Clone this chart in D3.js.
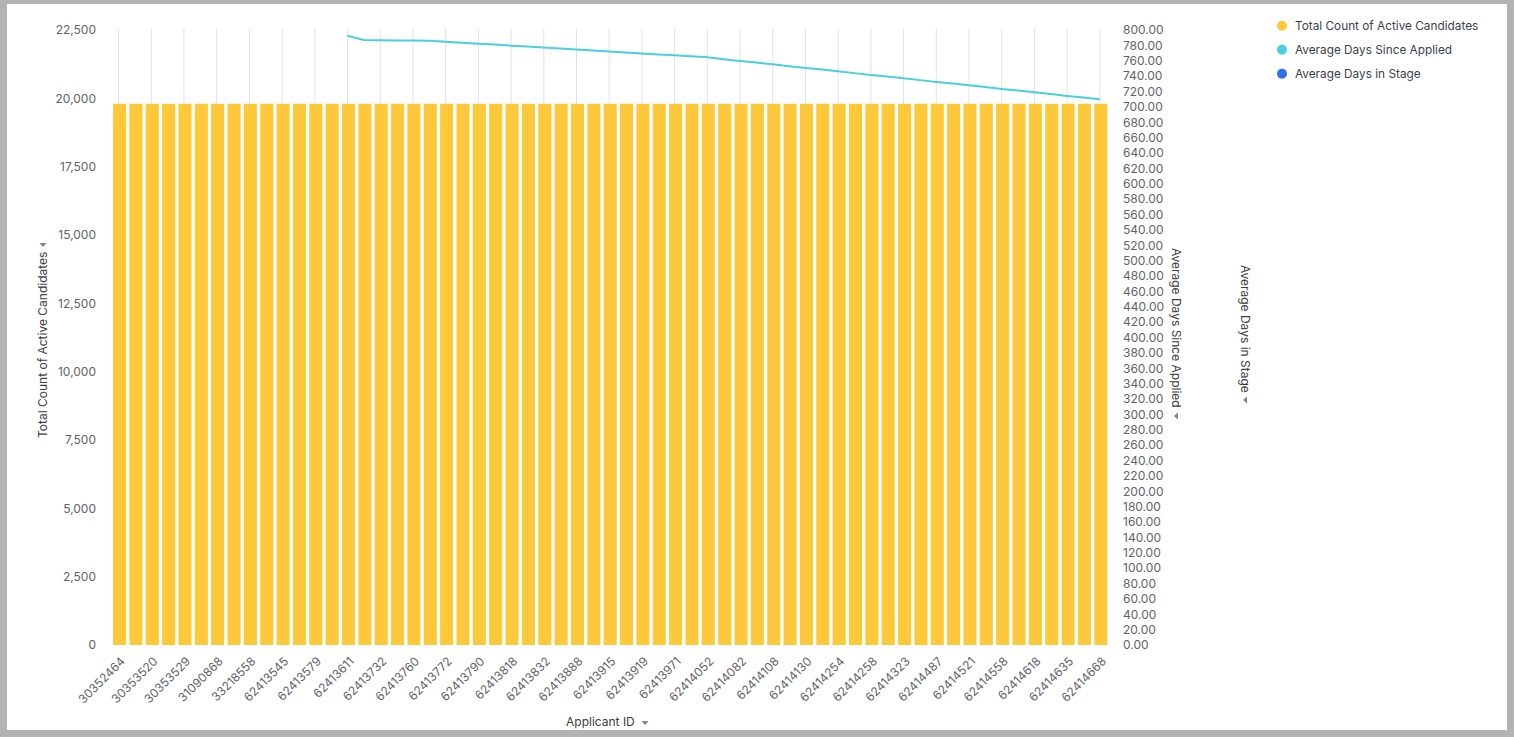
<!DOCTYPE html>
<html>
<head>
<meta charset="utf-8">
<script src="https://cdn.jsdelivr.net/npm/d3@7"></script>
<style>
  html, body { margin: 0; padding: 0; background: #b3b3b3; }
  svg { display: block; font-family: Inter, "Noto Sans", sans-serif; }
</style>
</head>
<body>
<div id="chart"></div>
<script>
var width = 1514;
var height = 737;

// applicant ids (x categories)
var applicantIds = [
  "30352464", "30353117", "30353520", "30353527", "30353529", "30355812",
  "31090868", "32140573", "33218558", "62413512", "62413545", "62413566",
  "62413579", "62413598", "62413611", "62413689", "62413732", "62413748",
  "62413760", "62413765", "62413772", "62413781", "62413790", "62413806",
  "62413818", "62413824", "62413832", "62413851", "62413888", "62413902",
  "62413915", "62413917", "62413919", "62413946", "62413971", "62414017",
  "62414052", "62414068", "62414082", "62414095", "62414108", "62414119",
  "62414130", "62414187", "62414254", "62414256", "62414258", "62414291",
  "62414323", "62414402", "62414487", "62414503", "62414521", "62414540",
  "62414558", "62414587", "62414618", "62414627", "62414635", "62414650",
  "62414668"
];

// total count of active candidates per applicant
var activeCounts = [
  19800, 19800, 19800, 19800, 19800, 19800, 19800, 19800, 19800, 19800,
  19800, 19800, 19800, 19800, 19800, 19800, 19800, 19800, 19800, 19800,
  19800, 19800, 19800, 19800, 19800, 19800, 19800, 19800, 19800, 19800,
  19800, 19800, 19800, 19800, 19800, 19800, 19800, 19800, 19800, 19800,
  19800, 19800, 19800, 19800, 19800, 19800, 19800, 19800, 19800, 19800,
  19800, 19800, 19800, 19800, 19800, 19800, 19800, 19800, 19800, 19800,
  19800
];

// average days since applied (null = no value)
var daysSinceApplied = [
  null, null, null, null, null, null, null, null, null, null,
  null, null, null, null, 792.6, 787.0, 786.6, 786.5, 786.3, 786.0,
  784.7, 783.5, 782.2, 781.0, 779.6, 778.4, 777.1, 775.9, 774.6, 773.3,
  772.0, 770.8, 769.5, 768.2, 767.0, 765.7, 764.4, 762.1, 759.8, 757.6,
  755.3, 753.0, 750.7, 748.5, 746.2, 743.9, 741.6, 739.4, 737.1, 734.8,
  732.5, 730.3, 728.0, 725.7, 723.4, 721.2, 718.9, 716.6, 714.3, 712.1,
  709.8
];

var leftTicks = [0, 2500, 5000, 7500, 10000, 12500, 15000, 17500, 20000, 22500];
var rightTicks = d3.range(0, 801, 20);

var seriesNames = ["Total Count of Active Candidates", "Average Days Since Applied", "Average Days in Stage"];
var seriesColors = ["#fdc93b", "#48cfe0", "#2f6fed"];

var plotTop = 30;
var plotBottom = 645;

var svg = d3.select("#chart")
            .append("svg")
            .attr("width", width)
            .attr("height", height);

// white panel
svg.append("rect")
    .attr("x", 7)
    .attr("y", 4)
    .attr("width", 1500)
    .attr("height", 726)
    .attr("fill", "white");

var x = d3.scaleBand()
          .domain(applicantIds)
          .range([111.4, 1109])
          .paddingInner(0.2)
          .paddingOuter(0.1);

var yLeft = d3.scaleLinear()
              .domain([0, 22500])
              .range([plotBottom, plotTop]);

var yRight = d3.scaleLinear()
               .domain([0, 800])
               .range([plotBottom, plotTop]);

var labelledIds = applicantIds.filter((d, i) => i % 2 === 0);

// vertical grid lines
svg.append("g")
    .selectAll("line")
    .data(labelledIds)
    .join("line")
    .attr("x1", d => x(d) + x.bandwidth() / 2 - 1)
    .attr("x2", d => x(d) + x.bandwidth() / 2 - 1)
    .attr("y1", plotTop - 1)
    .attr("y2", plotBottom)
    .attr("stroke", "#e2e2e2")
    .attr("stroke-width", 1);

// bars
svg.append("g")
    .selectAll("rect")
    .data(applicantIds)
    .join("rect")
    .attr("x", d => x(d))
    .attr("width", x.bandwidth())
    .attr("y", (d, i) => yLeft(activeCounts[i]))
    .attr("height", (d, i) => plotBottom - yLeft(activeCounts[i]))
    .attr("fill", seriesColors[0]);

// line
var lineGenerator = d3.line()
                      .defined(d => d.v !== null)
                      .x(d => x(d.id) + x.bandwidth() / 2 - 1)
                      .y(d => yRight(d.v));

svg.append("path")
    .attr("d", lineGenerator(applicantIds.map((id, i) => ({id: id, v: daysSinceApplied[i]}))))
    .attr("stroke", seriesColors[1])
    .attr("stroke-width", 2)
    .attr("fill", "none");

// left axis
var leftAxis = svg.append("g")
    .attr("transform", "translate(96,0)")
    .call(d3.axisLeft(yLeft).tickValues(leftTicks).tickSize(0).tickPadding(0).tickFormat(d3.format(",")));
leftAxis.select(".domain").remove();
leftAxis.selectAll("text")
    .attr("fill", "#5f6368")
    .style("font-size", "12px")
    .style("font-family", "Inter, sans-serif");

// right axis
var rightAxis = svg.append("g")
    .attr("transform", "translate(1123,0)")
    .call(d3.axisRight(yRight).tickValues(rightTicks).tickSize(0).tickPadding(0).tickFormat(d3.format(".2f")));
rightAxis.select(".domain").remove();
rightAxis.selectAll("text")
    .attr("fill", "#5f6368")
    .style("font-size", "12px")
    .style("font-family", "Inter, sans-serif");

// bottom axis
var bottomAxis = svg.append("g")
    .attr("transform", "translate(0," + (plotBottom + 12) + ")")
    .call(d3.axisBottom(x).tickValues(labelledIds).tickSize(0).tickPadding(0));
bottomAxis.select(".domain").remove();
bottomAxis.selectAll("text")
    .attr("fill", "#5f6368")
    .style("font-size", "12px")
    .style("font-family", "Inter, sans-serif")
    .attr("text-anchor", "end")
    .attr("dy", "0.6em")
    .attr("transform", "translate(1,0) rotate(-45)");

// axis titles
function addArrow(g, px, py, rot) {
    g.append("path")
        .attr("d", "M-3.5,-2 L3.5,-2 L0,2 Z")
        .attr("transform", "translate(" + px + "," + py + ") rotate(" + rot + ")")
        .attr("fill", "#7b8699");
}

var leftTitle = svg.append("g");
leftTitle.append("text")
    .attr("transform", "translate(47,438) rotate(-90)")
    .attr("text-anchor", "start")
    .attr("fill", "#3c4043")
    .style("font-size", "12px")
    .text("Total Count of Active Candidates");
addArrow(leftTitle, 43, 245, 0);

var rightTitle1 = svg.append("g");
rightTitle1.append("text")
    .attr("transform", "translate(1172,248) rotate(90)")
    .attr("text-anchor", "start")
    .attr("fill", "#3c4043")
    .style("font-size", "12px")
    .text("Average Days Since Applied");
addArrow(rightTitle1, 1176, 416, 90);

var rightTitle2 = svg.append("g");
rightTitle2.append("text")
    .attr("transform", "translate(1241,265) rotate(90)")
    .attr("text-anchor", "start")
    .attr("fill", "#3c4043")
    .style("font-size", "12px")
    .text("Average Days in Stage");
addArrow(rightTitle2, 1245, 400, 90);

var bottomTitle = svg.append("g");
bottomTitle.append("text")
    .attr("x", 566)
    .attr("y", 726)
    .attr("fill", "#3c4043")
    .style("font-size", "12px")
    .text("Applicant ID");
addArrow(bottomTitle, 645, 723, 0);

// legend
var legend = svg.append("g")
    .selectAll("g")
    .data(seriesNames)
    .join("g")
    .attr("transform", (d, i) => "translate(1282," + (25.7 + i * 24) + ")");

legend.append("circle")
    .attr("r", 5)
    .attr("fill", (d, i) => seriesColors[i]);

legend.append("text")
    .attr("x", 13)
    .attr("dy", "0.35em")
    .attr("fill", "#3a3f4f")
    .style("font-size", "11.8px")
    .text(d => d);
</script>
</body>
</html>
